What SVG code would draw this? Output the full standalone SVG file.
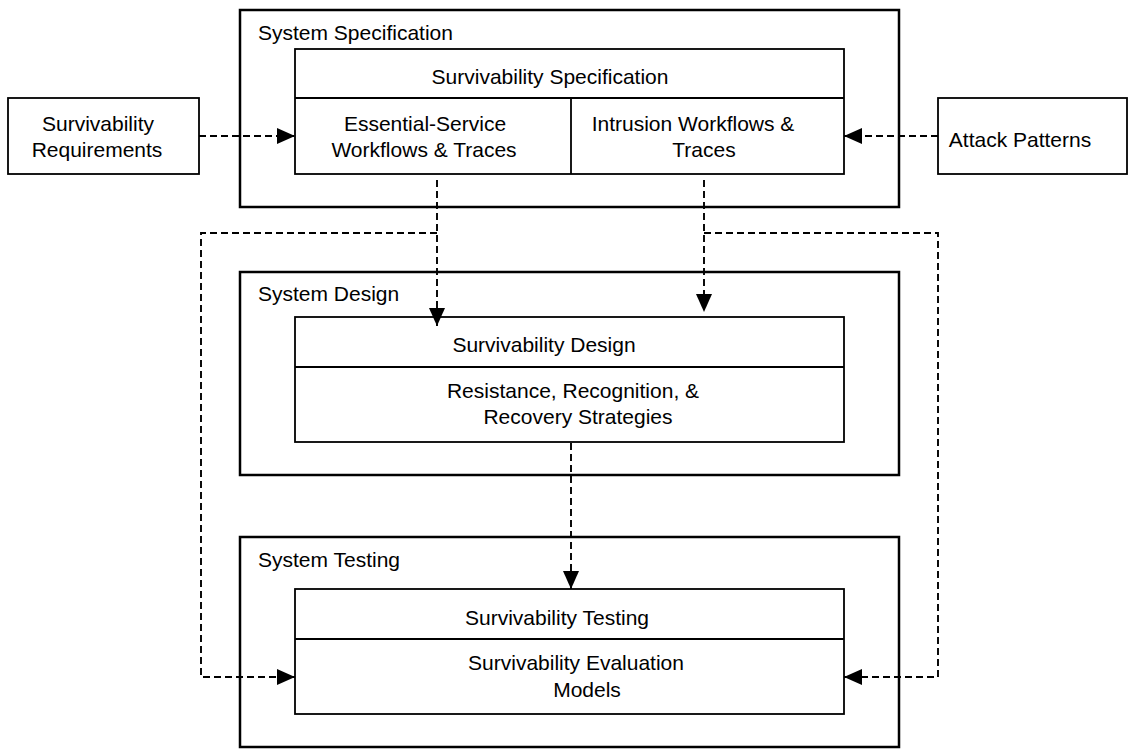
<svg xmlns="http://www.w3.org/2000/svg" width="1134" height="750" viewBox="0 0 1134 750">
  <style>
    .outer { fill: none; stroke: #000; stroke-width: 2.5; }
    .inner { fill: #fff; stroke: #000; stroke-width: 1.8; }
    .side { fill: #fff; stroke: #000; stroke-width: 1.8; }
    .div { stroke: #000; stroke-width: 1.8; }
    .t { font-family: "Liberation Sans", Arial, sans-serif; font-size: 21px; fill: #000; }
    .c { text-anchor: middle; }
    .conn { fill: none; stroke: #000; stroke-width: 1.9; stroke-dasharray: 7 4; }
  </style>
  <defs>
    <marker id="arr" markerUnits="userSpaceOnUse" markerWidth="18" markerHeight="16" refX="18" refY="8" orient="auto">
      <path d="M0,0 L18,8 L0,16 z" fill="#000"/>
    </marker>
  </defs>
  <rect width="1134" height="750" fill="#fff"/>

  <g id="system-specification">
    <rect class="outer" x="240" y="10" width="659" height="197"/>
    <text class="t" x="258" y="40">System Specification</text>
  </g>
  <g id="survivability-specification">
    <rect class="inner" x="295" y="49" width="549" height="125"/>
    <line class="div" x1="295" y1="98" x2="844" y2="98"/>
    <line class="div" x1="571" y1="98" x2="571" y2="174"/>
    <text class="t c" x="550" y="84">Survivability Specification</text>
    <text class="t c" x="425" y="131">Essential-Service</text>
    <text class="t c" x="424" y="157">Workflows &amp; Traces</text>
    <text class="t c" x="693" y="131">Intrusion Workflows &amp;</text>
    <text class="t c" x="704" y="157">Traces</text>
  </g>
  <g id="survivability-requirements">
    <rect class="side" x="8" y="98" width="191" height="76"/>
    <text class="t c" x="98" y="131">Survivability</text>
    <text class="t c" x="97" y="157">Requirements</text>
  </g>
  <g id="attack-patterns">
    <rect class="side" x="938" y="98" width="189" height="76"/>
    <text class="t c" x="1020" y="147">Attack Patterns</text>
  </g>

  <g id="system-design">
    <rect class="outer" x="240" y="272" width="659" height="203"/>
    <text class="t" x="258" y="301">System Design</text>
  </g>
  <g id="survivability-design">
    <rect class="inner" x="295" y="317" width="549" height="125"/>
    <line class="div" x1="295" y1="367" x2="844" y2="367"/>
    <text class="t c" x="544" y="352">Survivability Design</text>
    <text class="t c" x="573" y="398">Resistance, Recognition, &amp;</text>
    <text class="t c" x="578" y="424">Recovery Strategies</text>
  </g>

  <g id="system-testing">
    <rect class="outer" x="240" y="537" width="659" height="210"/>
    <text class="t" x="258" y="567">System Testing</text>
  </g>
  <g id="survivability-testing">
    <rect class="inner" x="295" y="589" width="549" height="125"/>
    <line class="div" x1="295" y1="639" x2="844" y2="639"/>
    <text class="t c" x="557" y="625">Survivability Testing</text>
    <text class="t c" x="576" y="670">Survivability Evaluation</text>
    <text class="t c" x="587" y="697">Models</text>
  </g>

  <g id="connectors">
    <line class="conn" x1="199" y1="136" x2="295" y2="136" marker-end="url(#arr)"/>
    <line class="conn" x1="938" y1="136" x2="844" y2="136" marker-end="url(#arr)"/>
    <line class="conn" x1="437" y1="180" x2="437" y2="326" marker-end="url(#arr)"/>
    <line class="conn" x1="704" y1="180" x2="704" y2="312" marker-end="url(#arr)"/>
    <line class="conn" x1="571" y1="443" x2="571" y2="589" marker-end="url(#arr)"/>
    <path class="conn" d="M437,233 H201 V677 H295" marker-end="url(#arr)"/>
    <path class="conn" d="M704,233 H938 V677 H844" marker-end="url(#arr)"/>
  </g>
</svg>
